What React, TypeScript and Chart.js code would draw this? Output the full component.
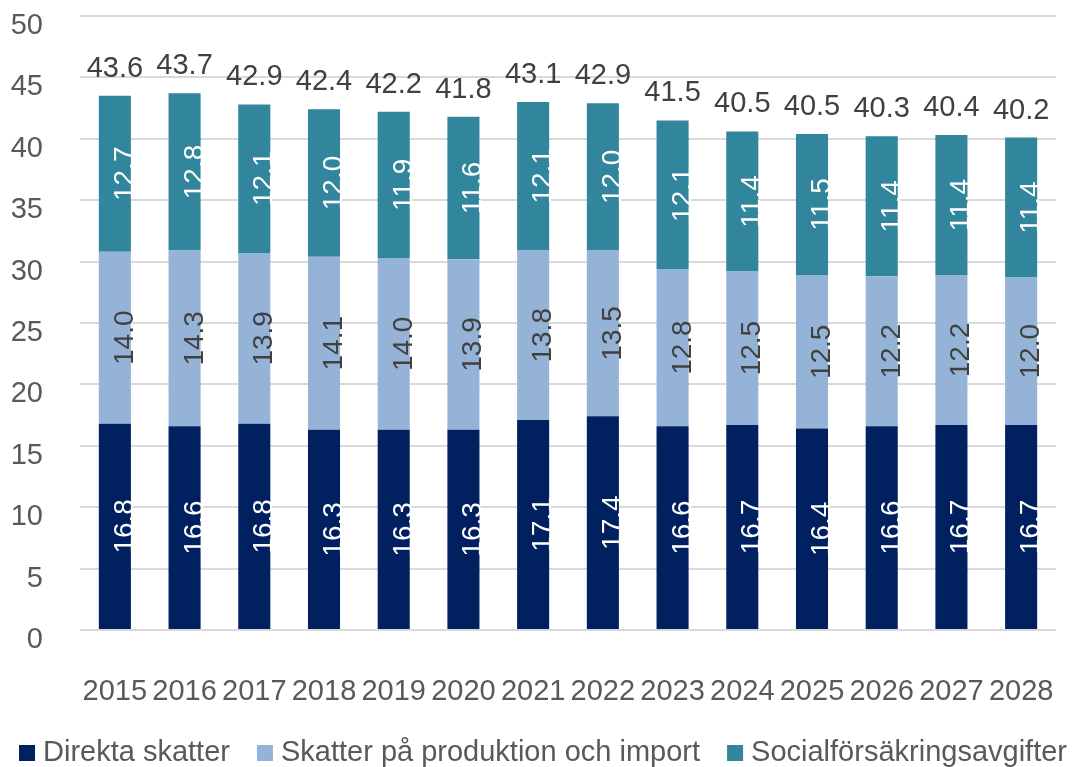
import React, { useEffect, useRef } from 'react';
import { Chart, registerables } from 'chart.js';

Chart.register(...registerables);

const years = ['2015', '2016', '2017', '2018', '2019', '2020', '2021', '2022', '2023', '2024', '2025', '2026', '2027', '2028'];
const direktaSkatter = [16.8, 16.6, 16.8, 16.3, 16.3, 16.3, 17.1, 17.4, 16.6, 16.7, 16.4, 16.6, 16.7, 16.7];
const skatterProduktion = [14.0, 14.3, 13.9, 14.1, 14.0, 13.9, 13.8, 13.5, 12.8, 12.5, 12.5, 12.2, 12.2, 12.0];
const socialAvgifter = [12.7, 12.8, 12.1, 12.0, 11.9, 11.6, 12.1, 12.0, 12.1, 11.4, 11.5, 11.4, 11.4, 11.4];
const totals = [43.6, 43.7, 42.9, 42.4, 42.2, 41.8, 43.1, 42.9, 41.5, 40.5, 40.5, 40.3, 40.4, 40.2];
const seriesNames = ['Direkta skatter', 'Skatter på produktion och import', 'Socialförsäkringsavgifter'];
const seriesColors = ['#002060', '#95B3D7', '#31859C'];
const insideLabelColors = ['#ffffff', '#404040', '#ffffff'];

const FONT = '"Liberation Sans", Arial, sans-serif';

const labelPlugin = {
  id: 'valueLabels',
  afterDatasetsDraw(chart: any) {
    const ctx = chart.ctx;
    ctx.save();
    chart.data.datasets.forEach((ds: any, di: number) => {
      const meta = chart.getDatasetMeta(di);
      meta.data.forEach((bar: any, i: number) => {
        const { x, y, base } = bar.getProps(['x', 'y', 'base'], true);
        const cy = (y + base) / 2;
        ctx.save();
        ctx.translate(x, cy);
        ctx.rotate(-Math.PI / 2);
        ctx.font = `28px ${FONT}`;
        ctx.fillStyle = insideLabelColors[di];
        ctx.textAlign = 'center';
        ctx.textBaseline = 'alphabetic';
        ctx.fillText(Number(ds.data[i]).toFixed(1), 0, 18);
        ctx.restore();
      });
    });
    const topMeta = chart.getDatasetMeta(chart.data.datasets.length - 1);
    topMeta.data.forEach((bar: any, i: number) => {
      const { x, y } = bar.getProps(['x', 'y'], true);
      ctx.font = `29px ${FONT}`;
      ctx.fillStyle = '#404040';
      ctx.textAlign = 'center';
      ctx.textBaseline = 'alphabetic';
      ctx.fillText(totals[i].toFixed(1), x, y - 19);
    });
    ctx.restore();
  },
};

const legendPlugin = {
  id: 'customLegend',
  afterDraw(chart: any) {
    const ctx = chart.ctx;
    ctx.save();
    ctx.font = `29px ${FONT}`;
    const box = 16;
    const gapBoxText = 8;
    const gapItems = 27;
    const widths = seriesNames.map((n) => ctx.measureText(n).width);
    const total = widths.reduce((a, w) => a + box + gapBoxText + w, 0) + gapItems * (seriesNames.length - 1);
    let x = 543 - total / 2;
    const baseline = chart.height - 6;
    seriesNames.forEach((name, i) => {
      ctx.fillStyle = seriesColors[i];
      ctx.fillRect(x, baseline - box, box, box);
      ctx.fillStyle = '#595959';
      ctx.textAlign = 'left';
      ctx.textBaseline = 'alphabetic';
      ctx.fillText(name, x + box + gapBoxText, baseline);
      x += box + gapBoxText + widths[i] + gapItems;
    });
    ctx.restore();
  },
};

export default function App() {
  const canvasRef = useRef<HTMLCanvasElement | null>(null);

  useEffect(() => {
    document.body.style.margin = '0';
    const canvas = canvasRef.current;
    if (!canvas) return;
    const chart = new Chart(canvas, {
      type: 'bar',
      data: {
        labels: years,
        datasets: [
          { label: seriesNames[0], data: direktaSkatter, backgroundColor: seriesColors[0] },
          { label: seriesNames[1], data: skatterProduktion, backgroundColor: seriesColors[1] },
          { label: seriesNames[2], data: socialAvgifter, backgroundColor: seriesColors[2] },
        ],
      },
      options: {
        responsive: false,
        animation: false,
        devicePixelRatio: 1,
        layout: { padding: { top: 16, right: 19, left: 0, bottom: 38 } },
        datasets: {
          bar: { categoryPercentage: 1, barPercentage: 0.46 },
        },
        scales: {
          x: {
            stacked: true,
            grid: { display: false, drawTicks: false },
            border: { display: false },
            ticks: { color: '#595959', font: { family: FONT, size: 29 }, padding: 45, maxRotation: 0, autoSkip: false },
            afterFit: (scale: any) => { scale.height = 99; scale.paddingLeft = 0; scale.paddingRight = 0; },
          },
          y: {
            stacked: true,
            min: 0,
            max: 50,
            grid: { color: '#D9D9D9', lineWidth: 2, drawTicks: false },
            border: { display: false },
            ticks: { stepSize: 5, color: '#595959', font: { family: FONT, size: 29 }, padding: 37, labelOffset: 10 },
            afterFit: (scale: any) => { scale.width = 80; scale.paddingTop = 0; scale.paddingBottom = 0; },
          },
        },
        plugins: {
          tooltip: { enabled: false },
          legend: { display: false },
        },
      },
      plugins: [labelPlugin, legendPlugin],
    } as any);
    return () => chart.destroy();
  }, []);

  return (
    <div style={{ width: 1075, height: 767 }}>
      <canvas ref={canvasRef} width={1075} height={767} style={{ display: 'block' }} />
    </div>
  );
}
